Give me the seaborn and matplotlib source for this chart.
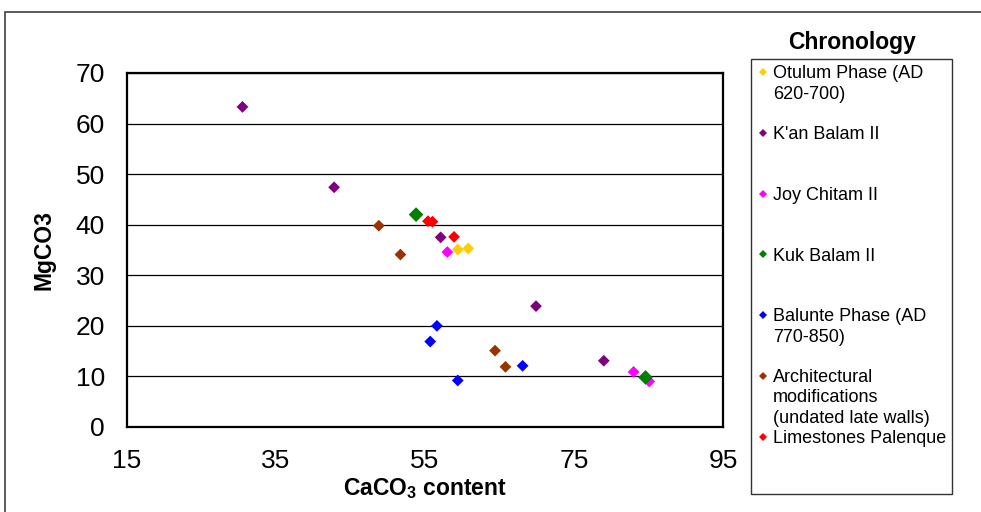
import matplotlib
matplotlib.use("Agg")
import matplotlib.pyplot as plt
import seaborn as sns
import pandas as pd
from matplotlib.lines import Line2D
from matplotlib.patches import Rectangle

# ---- data ----
series_names = [
    "Otulum Phase (AD\n620-700)",
    "K'an Balam II",
    "Joy Chitam II",
    "Kuk Balam II",
    "Balunte Phase (AD\n770-850)",
    "Architectural\nmodifications\n(undated late walls)",
    "Limestones Palenque",
]
series_colors = ["#FFCC00", "#800080", "#FF00FF", "#008000", "#0000FF", "#993300", "#FF0000"]

otulum_x = [59.4, 60.8]
otulum_y = [35.1, 35.3]
kan_x = [30.5, 42.8, 57.1, 69.9, 79.0]
kan_y = [63.3, 47.4, 37.5, 23.9, 13.1]
joy_x = [58.0, 83.0, 85.1]
joy_y = [34.6, 10.9, 9.0]
kuk_x = [53.8, 84.6]
kuk_y = [42.0, 9.8]
balunte_x = [56.6, 55.7, 68.1, 59.4]
balunte_y = [20.0, 16.9, 12.1, 9.2]
arch_x = [48.8, 51.7, 64.4, 65.8]
arch_y = [39.8, 34.1, 15.1, 11.9]
lime_x = [55.4, 56.0, 58.9]
lime_y = [40.7, 40.6, 37.6]

xs = [otulum_x, kan_x, joy_x, kuk_x, balunte_x, arch_x, lime_x]
ys = [otulum_y, kan_y, joy_y, kuk_y, balunte_y, arch_y, lime_y]

x_ticks = [15, 35, 55, 75, 95]
y_ticks = [0, 10, 20, 30, 40, 50, 60, 70]

rows = []
for name, sx, sy in zip(series_names, xs, ys):
    for a, b in zip(sx, sy):
        rows.append({"series": name, "CaCO3": a, "MgCO3": b})
df = pd.DataFrame(rows)

# ---- style ----
sns.set_theme(style="white")
plt.rcParams["font.family"] = ["Liberation Sans", "DejaVu Sans"]
plt.rcParams["text.color"] = "black"
plt.rcParams["axes.labelcolor"] = "black"
plt.rcParams["mathtext.fontset"] = "custom"
plt.rcParams["mathtext.bf"] = "Liberation Sans:bold"
plt.rcParams["mathtext.rm"] = "Liberation Sans"

fig = plt.figure(figsize=(9.81, 5.12), dpi=100)
W, H = 981, 512
ax = fig.add_axes([127 / W, 1 - 427 / H, (723 - 127) / W, (427 - 73) / H])

palette = dict(zip(series_names, series_colors))
sizes = {n: (56 if n == "Kuk Balam II" else 36) for n in series_names}
sns.scatterplot(data=df, x="CaCO3", y="MgCO3", hue="series", hue_order=series_names,
                palette=palette, size="series", sizes=sizes, marker="D",
                edgecolor="none", linewidth=0, legend=False, ax=ax, zorder=3)

ax.set_xlim(15, 95)
ax.set_ylim(0, 70)
ax.set_xticks(x_ticks)
ax.set_yticks(y_ticks)
ax.tick_params(axis="both", labelsize=19, labelcolor="black", color="#808080",
               length=6, width=1, direction="out")
ax.tick_params(axis="y", pad=10)
ax.tick_params(axis="x", pad=10)
ax.yaxis.grid(True, color="black", linewidth=0.9)
ax.xaxis.grid(False)
for sp in ax.spines.values():
    sp.set_color("black")
    sp.set_linewidth(1.6)

ax.set_xlabel(r"CaCO$_\mathbf{3}$ content", fontsize=16.5, fontweight="bold", labelpad=2)
ax.set_ylabel("MgCO3", fontsize=16.5, fontweight="bold", labelpad=14)

# outer chart border
fig.patches.append(Rectangle((5 / W, -0.1), 1.2, (512 - 12) / H + 0.1,
                             transform=fig.transFigure, fill=False,
                             edgecolor="#404040", linewidth=1.2))

# legend
handles = [Line2D([], [], marker="D", linestyle="none", color=c, markersize=4.3,
                  markeredgewidth=0) for c in series_colors]
labels = []
for n in series_names:
    k = n.count("\n")
    labels.append(n + "\n " * (2 - k))
leg = fig.legend(handles, labels, loc="upper left",
                 bbox_to_anchor=(751 / W, 1 - 59 / H), bbox_transform=fig.transFigure,
                 frameon=True, fancybox=False, shadow=False, fontsize=13,
                 handlelength=0.6, handleheight=0.9, handletextpad=0.25,
                 labelspacing=0.18, borderpad=0.35, borderaxespad=0)
leg.get_frame().set_edgecolor("black")
leg.get_frame().set_linewidth(1.0)
for t in leg.get_texts():
    t.set_linespacing(1.25)
    t.set_color("black")
try:
    for col in leg._legend_handle_box.get_children():
        for hp in col.get_children():
            hp.align = "top"
except Exception:
    pass

fig.text(852 / W, 1 - 43 / H, "Chronology", ha="center", va="center",
         fontsize=16.5, fontweight="bold", color="black")

fig.savefig("out.png", dpi=100)
